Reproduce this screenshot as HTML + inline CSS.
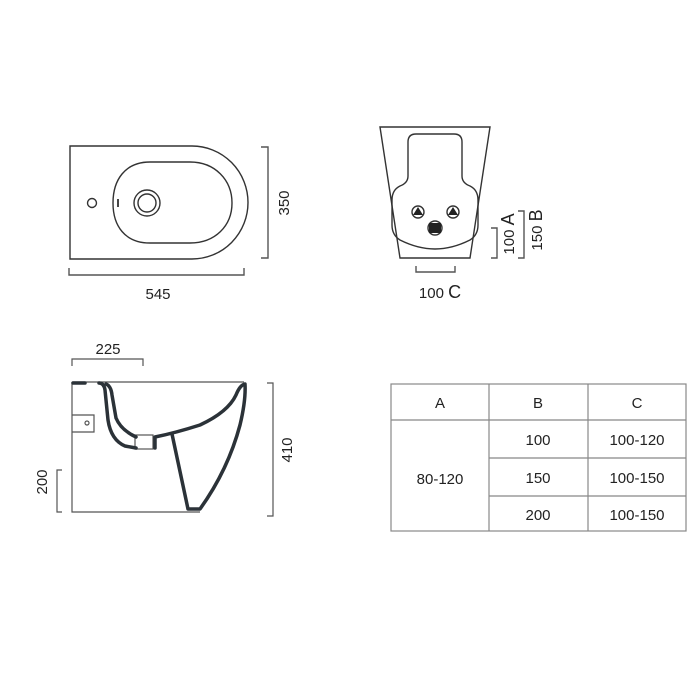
<!DOCTYPE html>
<html><head><style>html,body{margin:0;padding:0;background:#fff}svg{display:block}</style></head>
<body>
<svg width="700" height="700" viewBox="0 0 700 700" xmlns="http://www.w3.org/2000/svg" font-family="Liberation Sans, sans-serif">
<rect width="700" height="700" fill="#fff"/>
<!-- Top view -->
<g fill="none" stroke="#333" stroke-width="1.4">
<path d="M70 146 H192 A56 56.5 0 0 1 192 259 H70 Z"/>
<path d="M150 162 H190 C215 162 232 180 232 203 C232 226 215 243 190 243 H150 C125 243 113 226 113 203 C113 180 125 162 150 162 Z"/>
<circle cx="92" cy="203" r="4.5"/>
<circle cx="147" cy="203" r="13"/>
<circle cx="147" cy="203" r="9"/>
<line x1="118" y1="199" x2="118" y2="207" stroke-width="1.8"/>
<path d="M261 147 H268 V258 H261" stroke="#555"/>
<path d="M69 268 V275 H244 V268" stroke="#555"/>
</g>
<text x="158" y="299" font-size="15" text-anchor="middle" fill="#222">545</text>
<text transform="translate(289,203) rotate(-90)" font-size="15" text-anchor="middle" fill="#222">350</text>
<!-- Front view -->
<g fill="none" stroke="#333" stroke-width="1.4">
<path d="M380 127 H490 L470 258 H400 Z"/>
<path d="M416 134 H454 Q462 134 462 142 V176 Q462 183 470 186 Q478 190 478 200 V225 Q478 235 470 240 Q452 249 435 249 Q418 249 400 240 Q392 235 392 225 V200 Q392 190 400 186 Q408 183 408 176 V142 Q408 134 416 134 Z"/>
<circle cx="418" cy="212" r="6"/>
<circle cx="453" cy="212" r="6"/>
<circle cx="435" cy="228" r="7"/>
<path d="M416 266 V272 H455 V266" stroke="#555"/>
<path d="M491 228 H497 V258 H491" stroke="#555"/>
<path d="M518 211 H524 V258 H518" stroke="#555"/>
</g>
<path d="M418 207 L413 215 H423 Z M453 207 L448 215 H458 Z" fill="#222"/>
<rect x="429" y="223" width="12" height="10" fill="#222"/>
<text x="440" y="298" font-size="15" text-anchor="middle" fill="#222">100 <tspan font-size="18">C</tspan></text>
<text transform="translate(514,234) rotate(-90)" font-size="15" text-anchor="middle" fill="#222">100 <tspan font-size="18">A</tspan></text>
<text transform="translate(542,230) rotate(-90)" font-size="15" text-anchor="middle" fill="#222">150 <tspan font-size="18">B</tspan></text>
<!-- Side view -->
<g fill="none" stroke="#555" stroke-width="1.2">
<path d="M72 382 H244"/>
<path d="M72 382 V512 H200"/>
<path d="M72 415 H94 V432 H72"/>
<circle cx="87" cy="423" r="2"/>
<path d="M72 366 V359 H143 V366"/>
<path d="M62 470 H57 V512 H62"/>
<path d="M267 383 H273 V516 H267"/>
<rect x="135" y="435" width="18" height="14"/>
</g>
<g fill="none" stroke="#2b3238" stroke-width="3.5" stroke-linejoin="round" stroke-linecap="round">
<path d="M73 383 H85"/>
<path d="M99 383 Q104 383 105 390 L108 420 Q111 440 125 446 L136 448"/>
<path d="M106 384 Q111 386 112 395 L116 418 Q121 430 136 437"/>
<path d="M155 448 V437 Q175 433 200 425 Q228 412 236 395 Q240 385 245 384 Q246 400 240 425 Q228 470 200 509 H188 L172 434"/>
</g>
<text x="108" y="354" font-size="15" text-anchor="middle" fill="#222">225</text>
<text transform="translate(47,482) rotate(-90)" font-size="15" text-anchor="middle" fill="#222">200</text>
<text transform="translate(292,450) rotate(-90)" font-size="15" text-anchor="middle" fill="#222">410</text>
<!-- Table -->
<g fill="none" stroke="#888" stroke-width="1.2">
<rect x="391" y="384" width="295" height="147"/>
<line x1="391" y1="420" x2="686" y2="420"/>
<line x1="489" y1="384" x2="489" y2="531"/>
<line x1="588" y1="384" x2="588" y2="531"/>
<line x1="489" y1="458" x2="686" y2="458"/>
<line x1="489" y1="496" x2="686" y2="496"/>
</g>
<g font-size="15" text-anchor="middle" fill="#222">
<text x="440" y="408">A</text>
<text x="538" y="408">B</text>
<text x="637" y="408">C</text>
<text x="440" y="484">80-120</text>
<text x="538" y="445">100</text>
<text x="637" y="445">100-120</text>
<text x="538" y="483">150</text>
<text x="637" y="483">100-150</text>
<text x="538" y="520">200</text>
<text x="637" y="520">100-150</text>
</g>
</svg>
</body></html>
